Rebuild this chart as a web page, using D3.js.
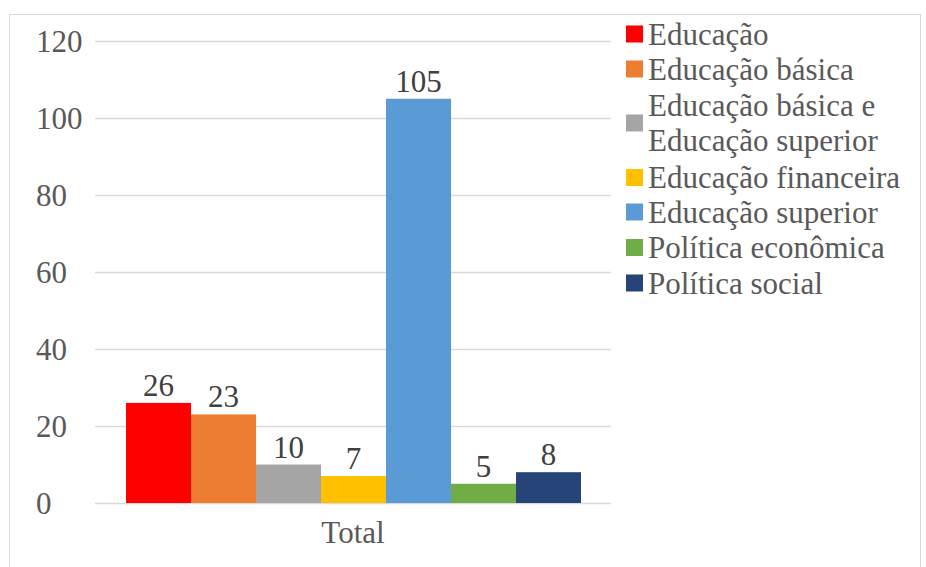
<!DOCTYPE html>
<html>
<head>
<meta charset="utf-8">
<script src="https://cdn.jsdelivr.net/npm/d3@7"></script>
<style>
  body { margin: 0; background: #fff; }
  text { font-family: "Liberation Serif", "Times New Roman", serif; }
</style>
</head>
<body>
<script>
const categories = ["Educação", "Educação básica", "Educação básica e Educação superior",
  "Educação financeira", "Educação superior", "Política econômica", "Política social"];
const legendLines = [["Educação"], ["Educação básica"], ["Educação básica e", "Educação superior"],
  ["Educação financeira"], ["Educação superior"], ["Política econômica"], ["Política social"]];
const values = [26, 23, 10, 7, 105, 5, 8];
const colors = ["#ff0000", "#ed7d31", "#a5a5a5", "#ffc000", "#5b9bd5", "#70ad47", "#264478"];
const yTicks = [0, 20, 40, 60, 80, 100, 120];
const group = "Total";

const w = 926, h = 567;
const fs = 31;

const svg = d3.select("body")
  .append("svg")
  .attr("width", w)
  .attr("height", h);

// chart area frame
svg.append("rect")
  .attr("x", 9.5).attr("y", 14.5)
  .attr("width", 911).attr("height", 560)
  .attr("fill", "#fff")
  .attr("stroke", "#d9d9d9");

const y = d3.scaleLinear()
  .domain([0, 120])
  .range([503, 41]);

const x0 = d3.scaleBand()
  .domain([group])
  .range([95, 611]);

const x = d3.scaleBand()
  .domain(categories)
  .range([126, 581]);

// gridlines
svg.append("g")
  .selectAll("line")
  .data(yTicks)
  .enter().append("line")
  .attr("x1", x0.range()[0]).attr("x2", x0.range()[1])
  .attr("y1", d => Math.round(y(d)) + 0.5)
  .attr("y2", d => Math.round(y(d)) + 0.5)
  .attr("stroke", "#d9d9d9")
  .attr("stroke-width", 1.3);

// y tick labels
svg.append("g")
  .selectAll("text")
  .data(yTicks)
  .enter().append("text")
  .attr("x", 36)
  .attr("y", d => y(d) + 11)
  .attr("font-size", fs)
  .attr("fill", "#595959")
  .text(d => d);

// bars
svg.append("g")
  .selectAll("rect")
  .data(values)
  .enter().append("rect")
  .attr("x", (d, i) => x(categories[i]))
  .attr("y", d => y(d))
  .attr("width", x.bandwidth())
  .attr("height", d => y(0) - y(d))
  .attr("fill", (d, i) => colors[i]);

// value labels
svg.append("g")
  .selectAll("text")
  .data(values)
  .enter().append("text")
  .attr("x", (d, i) => x(categories[i]) + x.bandwidth() / 2)
  .attr("y", d => y(d) - 7)
  .attr("text-anchor", "middle")
  .attr("font-size", fs)
  .attr("fill", "#404040")
  .text(d => d);

// category label
svg.append("text")
  .attr("x", x0(group) + x0.bandwidth() / 2)
  .attr("y", 543)
  .attr("text-anchor", "middle")
  .attr("font-size", fs)
  .attr("fill", "#595959")
  .text(group);

// legend
const rowY = [34, 69, 123, 177.5, 212, 247.5, 283];
const legend = svg.append("g");
legendLines.forEach((lines, i) => {
  legend.append("rect")
    .attr("x", 626).attr("y", rowY[i] - 8.5)
    .attr("width", 17).attr("height", 17)
    .attr("fill", colors[i]);
  lines.forEach((t, j) => {
    legend.append("text")
      .attr("x", 648)
      .attr("y", rowY[i] + 10.5 + (j - (lines.length - 1) / 2) * 35.5)
      .attr("font-size", fs)
      .attr("fill", "#595959")
      .text(t);
  });
});
</script>
</body>
</html>
